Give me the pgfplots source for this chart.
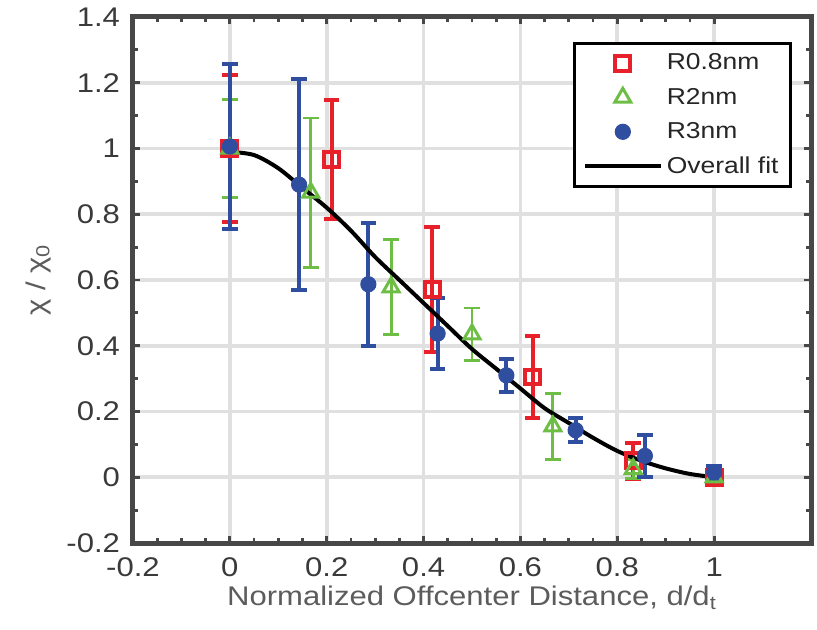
\documentclass[border=0pt]{standalone}
\usepackage{fontspec}
\setmainfont{Liberation Sans}[FakeStretch=1.15]
\usepackage{pgfplots}
\pgfplotsset{compat=1.18}
\definecolor{frame}{HTML}{474747}
\definecolor{tlab}{HTML}{3A3A3A}
\definecolor{alab}{HTML}{5C5C5C}
\definecolor{rred}{RGB}{232,32,42}
\definecolor{ggreen}{RGB}{110,190,70}
\definecolor{bblue}{RGB}{48,78,160}
\pgfplotsset{
    markleg/.style={legend image code/.code={\draw[##1] plot coordinates {(19pt,0pt)};}},
    lineleg/.style={legend image code/.code={\draw[##1] (0pt,0pt) -- (38pt,0pt);}},
}
\begin{document}
\begin{tikzpicture}
\path[use as bounding box] (-66.5pt,-43.5pt) rectangle (342pt,271.5pt);
\begin{axis}[
    scale only axis,
    width=339pt, height=263pt,
    xmin=-0.2, xmax=1.2, ymin=-0.2, ymax=1.4,
    xtick={-0.2,0,0.2,0.4,0.6,0.8,1},
    xticklabels={-0.2,0,0.2,0.4,0.6,0.8,1},
    ytick={-0.2,0,0.2,0.4,0.6,0.8,1,1.2,1.4},
    yticklabels={-0.2,0,0.2,0.4,0.6,0.8,1,1.2,1.4},
    minor x tick num=3, minor y tick num=1,
    tick align=inside,
    major tick length=3.5pt, minor tick length=2.5pt,
    tick style={line width=1.4pt, color=frame},
    grid=major,
    major grid style={line width=1.8pt, color=black!12},
    axis line style={line width=2.5pt, color=frame},
    tick label style={font=\fontsize{13.5}{16}\selectfont, text=tlab},
    xticklabel shift=4pt, yticklabel shift=3pt,
    label style={font=\fontsize{13.5}{16}\selectfont, text=alab},
    xlabel={Normalized Offcenter Distance, d/d\textsubscript{t}},
    ylabel={χ / χ\textsubscript{0}},
    xlabel style={at={(axis description cs:0.5,0)}, anchor=base, yshift=-31pt},
    ylabel style={at={(axis description cs:-0.140,0.5)}, anchor=center},
    legend style={at={(rel axis cs:0.972,0.952)}, anchor=north east,
        draw=black, line width=1.5pt, fill=white,
        inner xsep=4pt, inner ysep=3pt, row sep=3.6pt,
        font=\fontsize{11.5}{13}\selectfont, text=black!85,
        cells={anchor=west}},
    legend cell align=left,
]
\addplot[only marks, mark=square, mark size=3.7pt, color=rred,
    mark options={line width=2pt}, markleg,
    error bars/.cd, y dir=both, y explicit,
    error bar style={line width=2pt, color=rred},
    error mark options={rotate=90, mark size=3.9pt, line width=2pt, color=rred}]
coordinates {
    (0,1.0) +- (0,0.225)
    (0.21,0.966) +- (0,0.18)
    (0.418,0.57) +- (0,0.19)
    (0.625,0.305) +- (0,0.125)
    (0.833,0.05) +- (0,0.055)
    (1.0,0.0) +- (0,0.02)
};
\addlegendentry{R0.8nm}
\addplot[only marks, mark=triangle, mark size=4.6pt, color=ggreen,
    mark options={line width=1.5pt}, markleg,
    error bars/.cd, y dir=both, y explicit,
    error bar style={line width=1.4pt, color=ggreen},
    error mark options={rotate=90, mark size=3.9pt, line width=1.4pt, color=ggreen}]
coordinates {
    (0,1.0) +- (0,0.15)
    (0.167,0.866) +- (0,0.227)
    (0.333,0.578) +- (0,0.145)
    (0.5,0.435) +- (0,0.08)
    (0.667,0.155) +- (0,0.1)
    (0.833,0.025) +- (0,0.03)
    (1.0,0.0) +- (0,0.01)
};
\addlegendentry{R2nm}
\addplot[only marks, mark=*, mark size=3.8pt, color=bblue,
    mark options={fill=bblue, line width=0.5pt}, markleg,
    error bars/.cd, y dir=both, y explicit,
    error bar style={line width=2pt, color=bblue},
    error mark options={rotate=90, mark size=3.9pt, line width=2pt, color=bblue}]
coordinates {
    (0,1.006) +- (0,0.25)
    (0.143,0.89) +- (0,0.32)
    (0.286,0.587) +- (0,0.187)
    (0.429,0.437) +- (0,0.107)
    (0.571,0.31) +- (0,0.05)
    (0.714,0.143) +- (0,0.037)
    (0.857,0.065) +- (0,0.065)
    (1.0,0.015) +- (0,0.02)
};
\addlegendentry{R3nm}
\addplot[black, line width=2pt, smooth, no marks, lineleg]
coordinates {
    (0,0.99) (0.05,0.98) (0.1,0.94) (0.15,0.88) (0.2,0.82)
    (0.25,0.75) (0.3,0.67) (0.35,0.60) (0.4,0.53) (0.45,0.46)
    (0.5,0.39) (0.55,0.33) (0.6,0.27) (0.65,0.21) (0.7,0.165)
    (0.75,0.12) (0.8,0.08) (0.85,0.05) (0.9,0.027) (0.95,0.01)
    (1.0,0.0)
};
\addlegendentry{Overall fit}
\end{axis}
\end{tikzpicture}
\end{document}
